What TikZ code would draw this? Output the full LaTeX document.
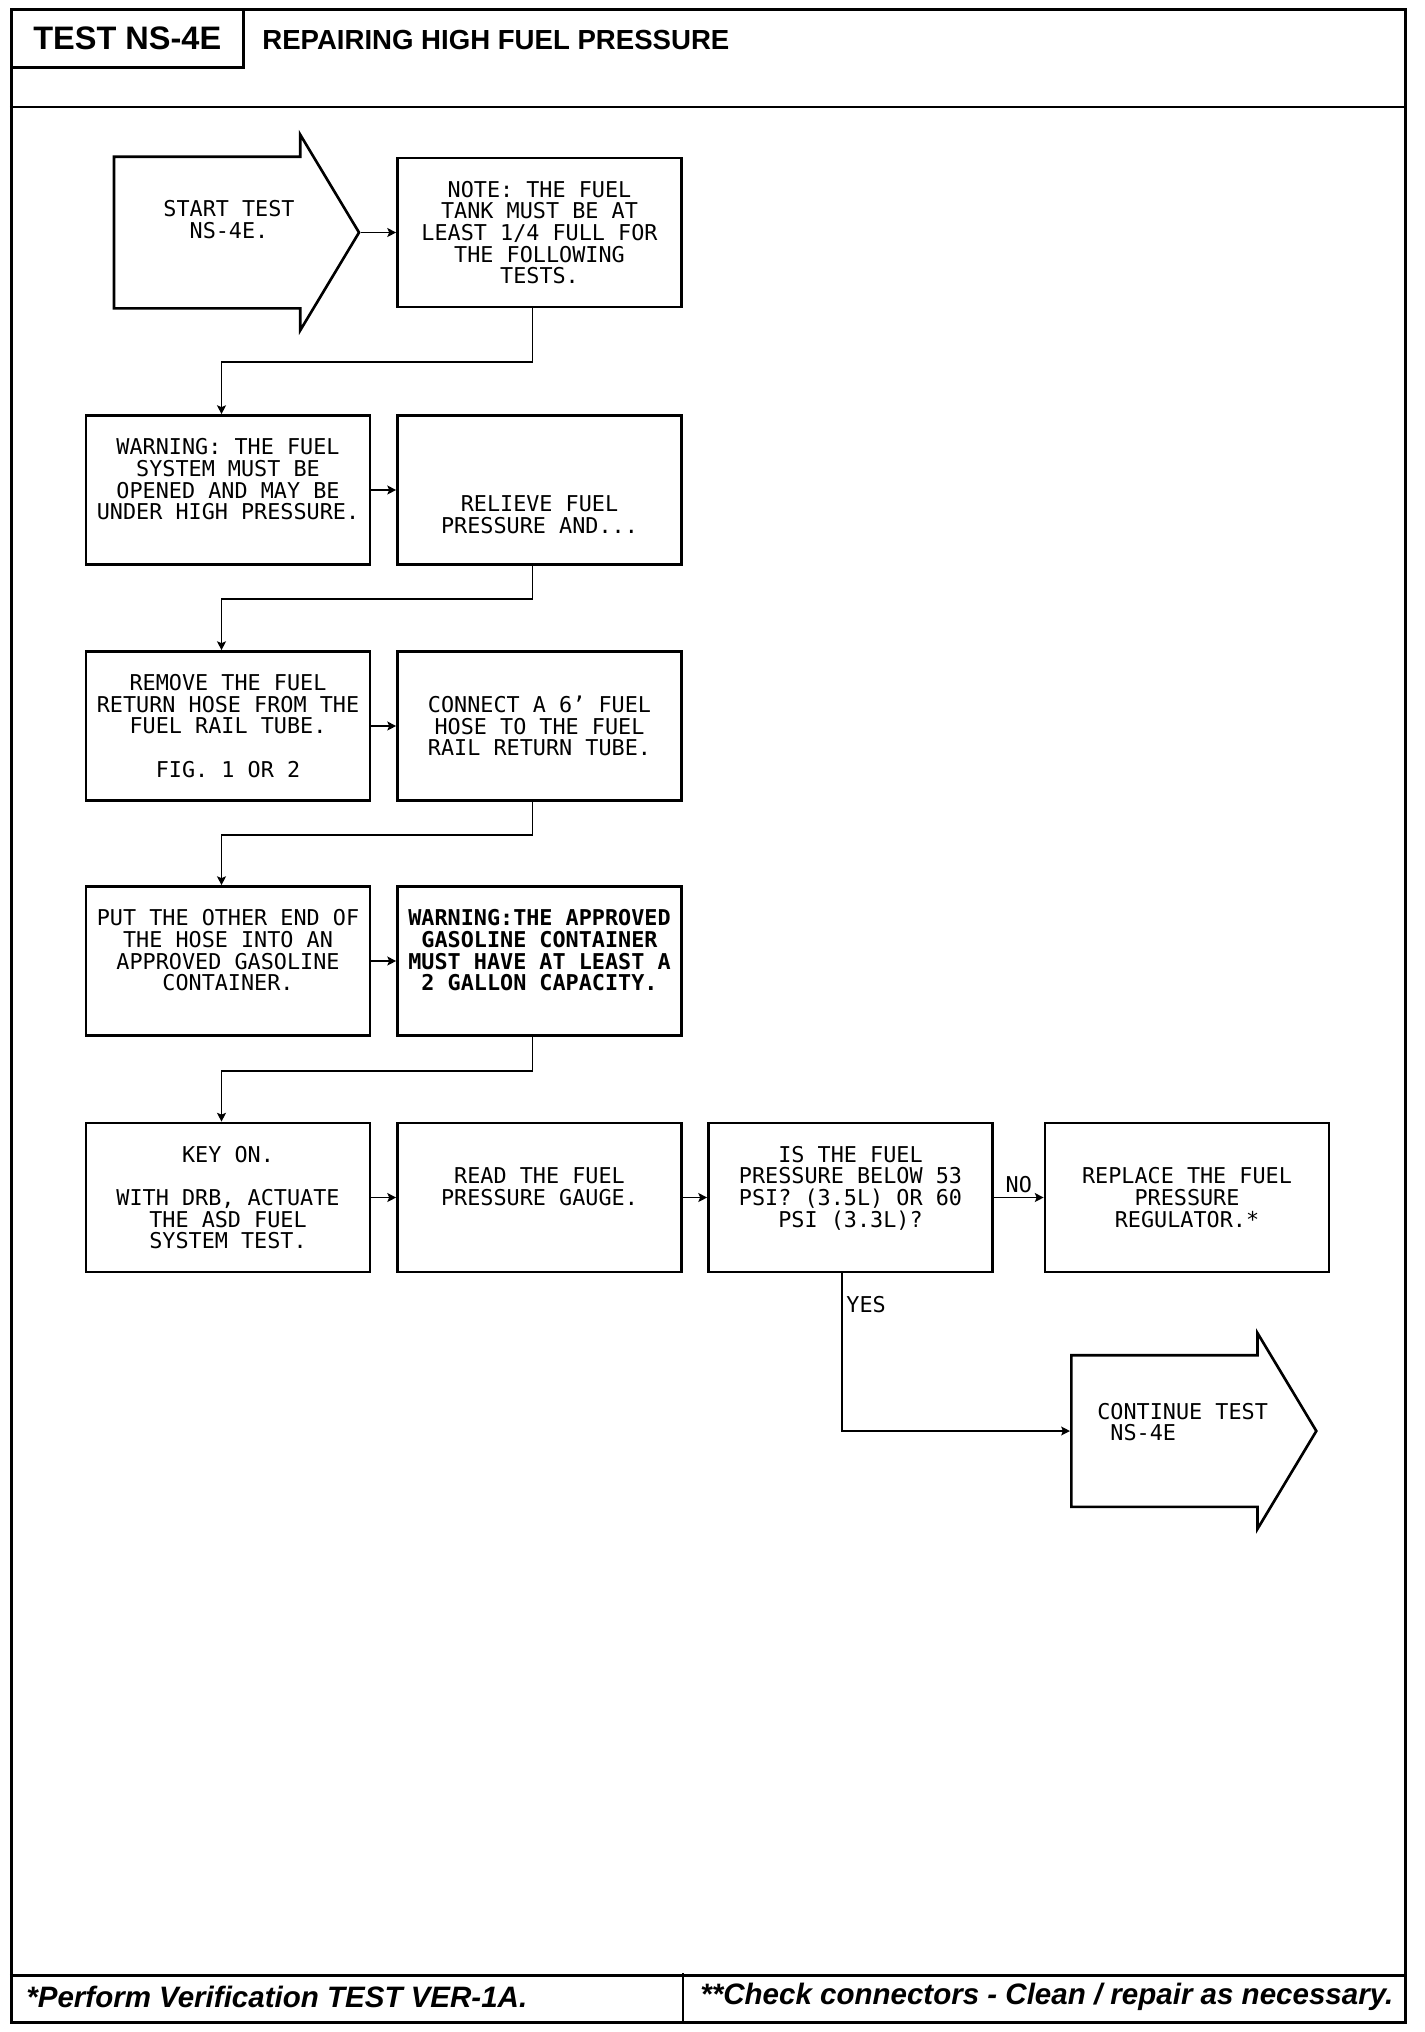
\documentclass[tikz,border=0pt]{standalone}
\usepackage{fontspec}
\newfontfamily\plotfont{DejaVu Sans Mono}
\newfontfamily\headfont{Liberation Sans}
\usepackage{tikz}
\usetikzlibrary{calc,shapes.arrows,arrows.meta,positioning}

\begin{document}
\begin{tikzpicture}[x=1cm,y=1cm]

% --- STYLES ---
\tikzset{
  boundary/.style={draw=black, line width=1.5pt},
  plottext/.style={font=\plotfont\fontsize{12.4}{12.3}\selectfont, align=center},
  stepbox/.style={rectangle, draw=black, line width=1.5pt, plottext,
                  minimum width=5.68cm, minimum height=2.98cm},
  % shaft height comes from the strut put in the node
  bigarrow/.style={single arrow, draw=black, line width=1.5pt, inner sep=0pt,
                   minimum height=4.9cm,
                   single arrow head extend=0.44cm, single arrow tip angle=118},
  flow/.style={black, line width=1.1pt,
               -{Stealth[length=5pt, width=5pt, inset=1pt]}},
  answer/.style={plottext, inner sep=2pt},
  footer/.style={font=\headfont\bfseries\itshape\fontsize{16.8}{18}\selectfont,
                 anchor=west, inner sep=0pt},
}
\newcommand{\shaftstrut}{\rule{0pt}{2.98cm}}

\useasboundingbox (0,0) rectangle (28.48,-40.64);

% ================= FRAME, HEADER & FOOTER =================
\node[boundary, minimum width=27.88cm, minimum height=40.26cm, anchor=north west]
      (frame) at (0.2,-0.16) {};
\node[boundary, minimum width=4.64cm, minimum height=1.16cm, anchor=north west,
      font=\headfont\bfseries\fontsize{18.5}{20}\selectfont]
      (testid) at (frame.north west) {TEST NS-4E};
\node[font=\headfont\bfseries\fontsize{15.7}{17}\selectfont, anchor=west, inner sep=0pt]
      (heading) at (5.24,-0.80) {REPAIRING HIGH FUEL PRESSURE};

\draw[boundary] ($(frame.north west)+(0,-1.98)$) -- ($(frame.north east)+(0,-1.98)$);
\draw[boundary] ($(frame.south west)+(0,0.96)$) -- ($(frame.south east)+(0,0.96)$);
\coordinate (footdiv) at (13.66,-39.46);
\draw[boundary] (footdiv) -- (footdiv |- frame.south);

\node[footer] (verif) at (0.52,-39.94) {*Perform Verification TEST VER-1A.};
\node[footer] (conncheck) at (14.0,-39.94) {**Check connectors - Clean / repair as necessary.};

% ================= ROW 1 =================
\node[bigarrow, anchor=tail] (start) at (2.254,-4.65) {\shaftstrut};
\node[plottext] (starttxt) at (4.58,-4.39) {START TEST\\NS-4E.};
\node[stepbox] (note) at (10.79,-4.65)
      {NOTE: THE FUEL\\TANK MUST BE AT\\LEAST 1/4 FULL FOR\\THE FOLLOWING\\TESTS.};

% ================= ROW 2 =================
\node[stepbox] (warna) at (4.56,-9.80)
      {WARNING: THE FUEL\\SYSTEM MUST BE\\OPENED AND MAY BE\\UNDER HIGH PRESSURE.\\~};
\node[stepbox] (relieve) at (10.79,-9.80) {~\\~\\~\\RELIEVE FUEL\\PRESSURE AND...};

% ================= ROW 3 =================
\node[stepbox] (remove) at (4.56,-14.52)
      {REMOVE THE FUEL\\RETURN HOSE FROM THE\\FUEL RAIL TUBE.\\~\\FIG. 1 OR 2};
\node[stepbox] (connect) at (10.79,-14.52)
      {CONNECT A 6’ FUEL\\HOSE TO THE FUEL\\RAIL RETURN TUBE.};

% ================= ROW 4 =================
\node[stepbox] (put) at (4.56,-19.22)
      {PUT THE OTHER END OF\\THE HOSE INTO AN\\APPROVED GASOLINE\\CONTAINER.\\~};
\node[stepbox, font=\plotfont\bfseries\fontsize{12.4}{12.3}\selectfont] (warnb) at (10.79,-19.22)
      {WARNING:THE APPROVED\\GASOLINE CONTAINER\\MUST HAVE AT LEAST A\\2 GALLON CAPACITY.\\~};

% ================= ROW 5 =================
\node[stepbox] (keyon) at (4.56,-23.95)
      {KEY ON.\\~\\WITH DRB, ACTUATE\\THE ASD FUEL\\SYSTEM TEST.};
\node[stepbox] (readg) at (10.79,-23.95) {READ THE FUEL\\PRESSURE GAUGE.\\~};
\node[stepbox] (isq) at (17.01,-23.95)
      {IS THE FUEL\\PRESSURE BELOW 53\\PSI? (3.5L) OR 60\\PSI (3.3L)?\\~};
\node[stepbox] (replace) at (23.74,-23.95) {REPLACE THE FUEL\\PRESSURE\\REGULATOR.*};

% ================= CONTINUE =================
\node[bigarrow, anchor=tail] (cont) at (21.4,-28.62) {\shaftstrut};
\node[plottext, align=left, anchor=west, inner sep=0pt] (conttxt) at (21.94,-28.44)
      {CONTINUE TEST\\~NS-4E};

% ================= CONNECTORS =================
\draw[flow] (start.tip) -- (note.west);

\foreach \a/\b in {warna/relieve, remove/connect, put/warnb, keyon/readg, readg/isq} {
    \draw[flow] (\a.east) -- (\b.west);
}

\foreach \a/\b/\d in {note/warna/1.08, relieve/remove/0.66, connect/put/0.66, warnb/keyon/0.68} {
    \draw[flow] ([xshift=-0.14cm]\a.south) -- ++(0,-\d) -| ([xshift=-0.13cm]\b.north);
}

\draw[flow] (isq.east) -- node[answer, above] (no) {NO} (replace.west);
\draw[flow] ([xshift=-0.17cm]isq.south) |- node[answer, pos=0.1, right] (yes) {YES} (cont.tail);

\end{tikzpicture}
\end{document}
